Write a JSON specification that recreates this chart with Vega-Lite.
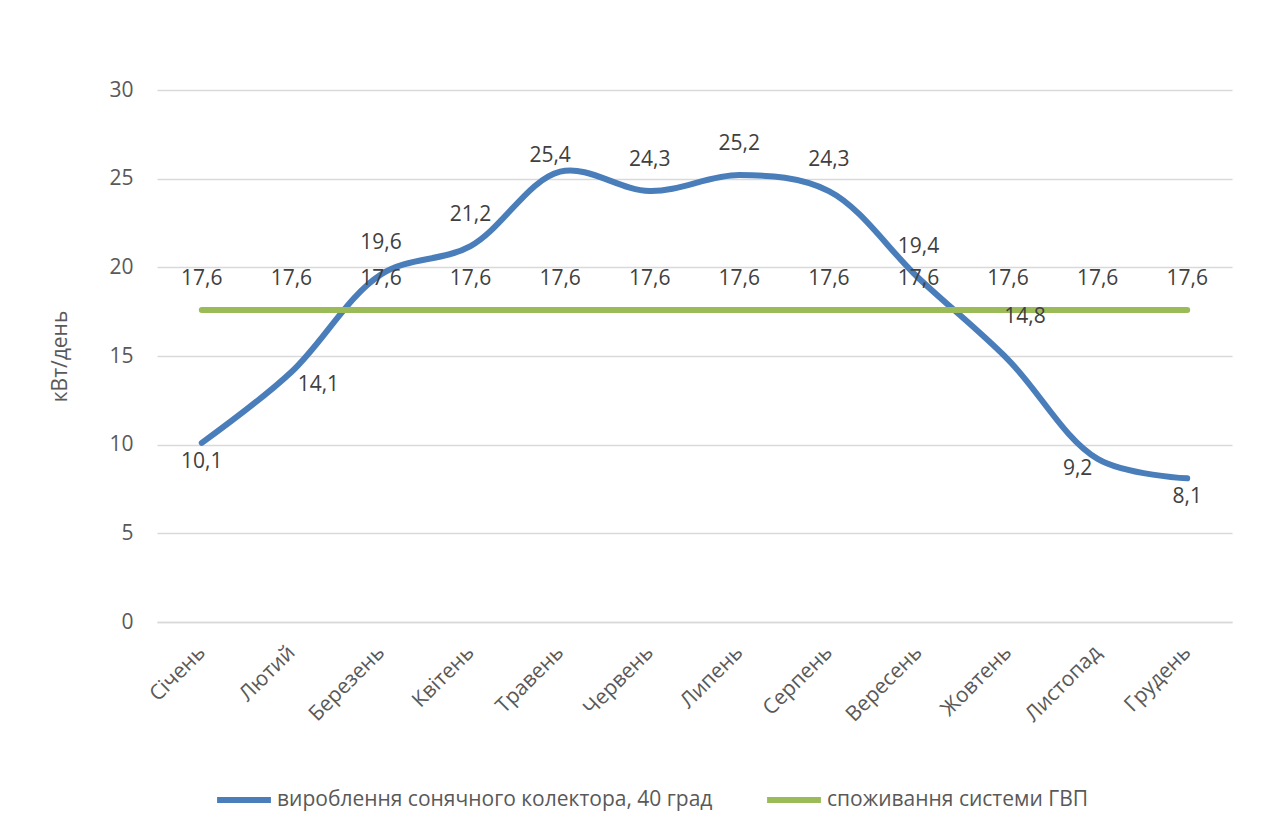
{
  "$schema": "https://vega.github.io/schema/vega-lite/v6.json",
  "width": 1075,
  "height": 532,
  "autosize": {"type": "none"},
  "padding": {"left": 157, "top": 90, "right": 45, "bottom": 208},
  "background": "#ffffff",
  "config": {
    "font": "Open Sans",
    "locale": {"number": {"decimal": ",", "thousands": " ", "grouping": [3], "currency": ["", " ₴"]}},
    "view": {"stroke": null},
    "axis": {"labelColor": "#595959", "titleColor": "#595959", "labelFontSize": 21, "titleFontSize": 21, "titleFontWeight": "normal"}
  },
  "data": {
    "values": [
      {"month": "Січень", "series": "вироблення сонячного колектора, 40 град", "value": 10.1},
      {"month": "Лютий", "series": "вироблення сонячного колектора, 40 град", "value": 14.1},
      {"month": "Березень", "series": "вироблення сонячного колектора, 40 град", "value": 19.6},
      {"month": "Квітень", "series": "вироблення сонячного колектора, 40 град", "value": 21.2},
      {"month": "Травень", "series": "вироблення сонячного колектора, 40 град", "value": 25.4},
      {"month": "Червень", "series": "вироблення сонячного колектора, 40 град", "value": 24.3},
      {"month": "Липень", "series": "вироблення сонячного колектора, 40 град", "value": 25.2},
      {"month": "Серпень", "series": "вироблення сонячного колектора, 40 град", "value": 24.3},
      {"month": "Вересень", "series": "вироблення сонячного колектора, 40 град", "value": 19.4},
      {"month": "Жовтень", "series": "вироблення сонячного колектора, 40 град", "value": 14.8},
      {"month": "Листопад", "series": "вироблення сонячного колектора, 40 град", "value": 9.2},
      {"month": "Грудень", "series": "вироблення сонячного колектора, 40 град", "value": 8.1},
      {"month": "Січень", "series": "споживання системи ГВП", "value": 17.6},
      {"month": "Лютий", "series": "споживання системи ГВП", "value": 17.6},
      {"month": "Березень", "series": "споживання системи ГВП", "value": 17.6},
      {"month": "Квітень", "series": "споживання системи ГВП", "value": 17.6},
      {"month": "Травень", "series": "споживання системи ГВП", "value": 17.6},
      {"month": "Червень", "series": "споживання системи ГВП", "value": 17.6},
      {"month": "Липень", "series": "споживання системи ГВП", "value": 17.6},
      {"month": "Серпень", "series": "споживання системи ГВП", "value": 17.6},
      {"month": "Вересень", "series": "споживання системи ГВП", "value": 17.6},
      {"month": "Жовтень", "series": "споживання системи ГВП", "value": 17.6},
      {"month": "Листопад", "series": "споживання системи ГВП", "value": 17.6},
      {"month": "Грудень", "series": "споживання системи ГВП", "value": 17.6}
    ]
  },
  "encoding": {
    "x": {
      "field": "month",
      "type": "ordinal",
      "sort": ["Січень", "Лютий", "Березень", "Квітень", "Травень", "Червень", "Липень", "Серпень", "Вересень", "Жовтень", "Листопад", "Грудень"],
      "scale": {"type": "point", "padding": 0.5},
      "axis": {"title": null, "labelAngle": -45, "labelAlign": "right", "labelBaseline": "middle", "labelPadding": 27, "ticks": false, "domainColor": "#d9d9d9", "domainWidth": 1.5, "grid": false}
    },
    "y": {
      "field": "value",
      "type": "quantitative",
      "scale": {"domain": [0, 30]},
      "axis": {"title": "кВт/день", "values": [0, 5, 10, 15, 20, 25, 30], "ticks": false, "domain": false, "gridColor": "#d9d9d9", "gridWidth": 1.5, "labelPadding": 24, "titlePadding": 38}
    }
  },
  "layer": [
    {
      "mark": {"type": "line", "interpolate": "catmull-rom", "strokeWidth": 6, "strokeCap": "round", "strokeJoin": "round"},
      "encoding": {
        "color": {
          "field": "series",
          "type": "nominal",
          "scale": {"domain": ["вироблення сонячного колектора, 40 град", "споживання системи ГВП"], "range": ["#4a7ebb", "#9bbb59"]},
          "legend": {
            "title": null,
            "orient": "none",
            "direction": "horizontal",
            "legendX": 57,
            "legendY": 680,
            "symbolType": "stroke",
            "symbolStrokeWidth": 6,
            "symbolSize": 2900,
            "labelFontSize": 21,
            "labelColor": "#595959",
            "labelOffset": 3,
            "labelLimit": 0,
            "columnPadding": 42
          }
        }
      }
    },
    {
      "transform": [{"filter": "datum.series == 'споживання системи ГВП'"}],
      "mark": {"type": "text", "dy": -31, "fontSize": 21, "color": "#404040"},
      "encoding": {"text": {"field": "value", "type": "quantitative", "format": ".1f"}}
    },
    {
      "transform": [
        {"filter": "datum.series != 'споживання системи ГВП'"},
        {"filter": {"field": "month", "oneOf": ["Березень", "Квітень", "Червень", "Липень", "Серпень", "Вересень"]}}
      ],
      "mark": {"type": "text", "dy": -31, "fontSize": 21, "color": "#404040"},
      "encoding": {"text": {"field": "value", "type": "quantitative", "format": ".1f"}}
    },
    {
      "transform": [
        {"filter": "datum.series != 'споживання системи ГВП'"},
        {"filter": {"field": "month", "oneOf": ["Січень", "Грудень"]}}
      ],
      "mark": {"type": "text", "dy": 19, "fontSize": 21, "color": "#404040"},
      "encoding": {"text": {"field": "value", "type": "quantitative", "format": ".1f"}}
    },
    {
      "transform": [
        {"filter": "datum.series != 'споживання системи ГВП'"},
        {"filter": {"field": "month", "equal": "Лютий"}}
      ],
      "mark": {"type": "text", "dx": 27, "dy": 13, "fontSize": 21, "color": "#404040"},
      "encoding": {"text": {"field": "value", "type": "quantitative", "format": ".1f"}}
    },
    {
      "transform": [
        {"filter": "datum.series != 'споживання системи ГВП'"},
        {"filter": {"field": "month", "equal": "Травень"}}
      ],
      "mark": {"type": "text", "dx": -10, "dy": -16, "fontSize": 21, "color": "#404040"},
      "encoding": {"text": {"field": "value", "type": "quantitative", "format": ".1f"}}
    },
    {
      "transform": [
        {"filter": "datum.series != 'споживання системи ГВП'"},
        {"filter": {"field": "month", "equal": "Жовтень"}}
      ],
      "mark": {"type": "text", "dx": 17, "dy": -43, "fontSize": 21, "color": "#404040"},
      "encoding": {"text": {"field": "value", "type": "quantitative", "format": ".1f"}}
    },
    {
      "transform": [
        {"filter": "datum.series != 'споживання системи ГВП'"},
        {"filter": {"field": "month", "equal": "Листопад"}}
      ],
      "mark": {"type": "text", "dx": -20, "dy": 10, "fontSize": 21, "color": "#404040"},
      "encoding": {"text": {"field": "value", "type": "quantitative", "format": ".1f"}}
    }
  ]
}
